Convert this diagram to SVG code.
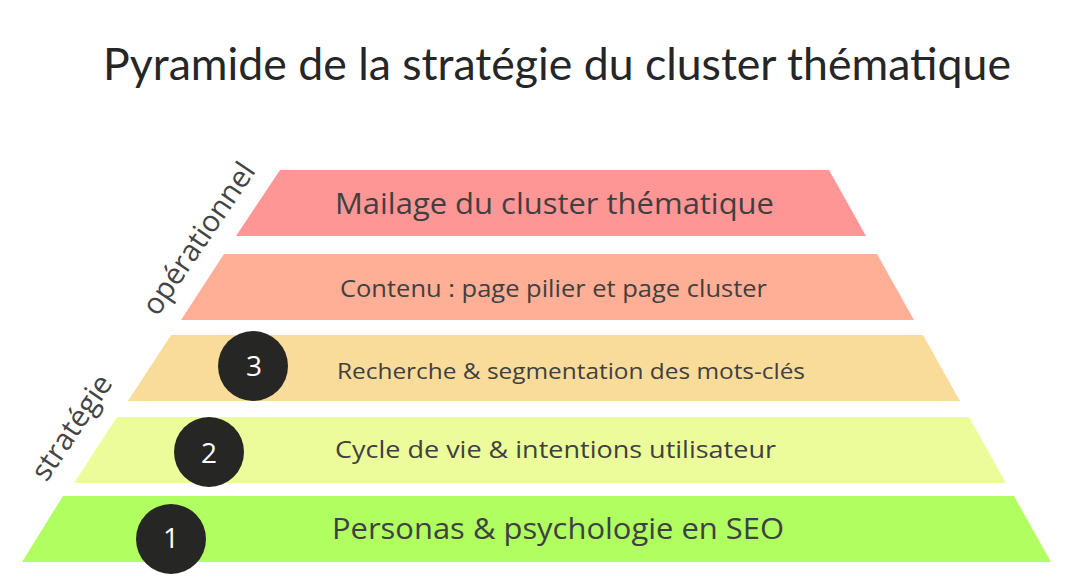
<svg xmlns="http://www.w3.org/2000/svg" width="1069" height="578" viewBox="0 0 1069 578">
  <style>
    .title { font-family: Lato, "Liberation Sans", sans-serif; font-size: 44px; fill: #262626; }
    .lbl { font-family: "Open Sans", "Liberation Sans", sans-serif; fill: #404040; }
    .side { font-family: "Open Sans", "Liberation Sans", sans-serif; font-size: 29.5px; fill: #444444; text-anchor: middle; }
    .badge circle { fill: #262624; }
    .badge text { font-family: "Open Sans", "Liberation Sans", sans-serif; font-size: 28px; fill: #ffffff; text-anchor: middle; }
  </style>
  <rect width="1069" height="578" fill="#ffffff"/>
  <text class="title" x="103" y="80" textLength="908" lengthAdjust="spacingAndGlyphs">Pyramide de la stratégie du cluster thématique</text>

  <g id="tier5">
    <polygon points="63,496 1014,496 1051,562 22,562" fill="#B0FE60"/>
    <text class="lbl" x="332" y="539" font-size="29" textLength="452" lengthAdjust="spacingAndGlyphs">Personas &amp; psychologie en SEO</text>
  </g>
  <g id="tier4">
    <polygon points="117,417 969,417 1006,483 74,483" fill="#EDFC9A"/>
    <text class="lbl" x="335" y="458" font-size="23.5" textLength="441" lengthAdjust="spacingAndGlyphs">Cycle de vie &amp; intentions utilisateur</text>
  </g>
  <g id="tier3">
    <polygon points="171,335 923,335 960,401 128,401" fill="#FADC9A"/>
    <text class="lbl" x="337" y="379" font-size="21.5" textLength="468" lengthAdjust="spacingAndGlyphs">Recherche &amp; segmentation des mots-clés</text>
  </g>
  <g id="tier2">
    <polygon points="224,254 877,254 914,320 181,320" fill="#FFAF96"/>
    <text class="lbl" x="340" y="297" font-size="23" textLength="427" lengthAdjust="spacingAndGlyphs">Contenu : page pilier et page cluster</text>
  </g>
  <g id="tier1">
    <polygon points="280,170 829,170 866,236 236,236" fill="#FF9696"/>
    <text class="lbl" x="335" y="214" font-size="29" textLength="439" lengthAdjust="spacingAndGlyphs">Mailage du cluster thématique</text>
  </g>

  <g id="badge3" class="badge">
    <circle cx="253" cy="366" r="35"/>
    <text x="254" y="376">3</text>
  </g>
  <g id="badge2" class="badge">
    <circle cx="209" cy="452" r="35"/>
    <text x="209" y="463">2</text>
  </g>
  <g id="badge1" class="badge">
    <circle cx="171" cy="539" r="35"/>
    <text x="171" y="548">1</text>
  </g>

  <g id="label-operationnel">
    <text class="side" transform="translate(207,244) rotate(-56)">opérationnel</text>
  </g>
  <g id="label-strategie">
    <text class="side" transform="translate(80,433) rotate(-56)">stratégie</text>
  </g>

  <g id="connectors"/>
</svg>
